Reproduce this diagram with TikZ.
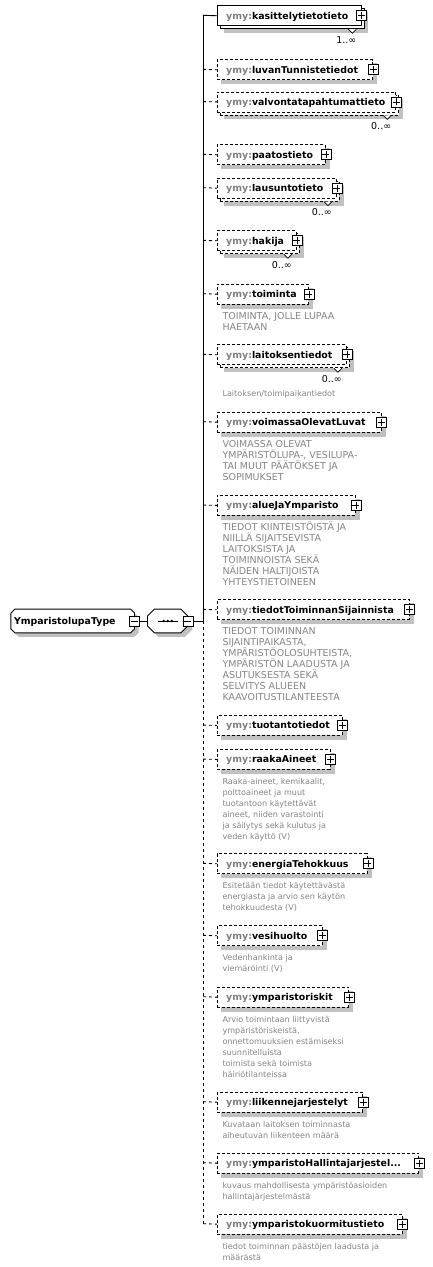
\documentclass[tikz,border=0pt]{standalone}
\usepackage{fontspec}
\setmainfont{DejaVu Sans}
\usetikzlibrary{backgrounds}
\definecolor{pfx}{RGB}{128,128,128}
\definecolor{desccol}{RGB}{132,132,132}
\definecolor{shadowgray}{RGB}{192,192,192}
\tikzset{
  ebox/.style={draw, fill=white, rectangle, minimum height=20pt, inner sep=0pt, line width=0.9pt},
  solidbox/.style={ebox},
  dashbox/.style={ebox, dash pattern=on 3pt off 2pt},
  lbl/.style={inner sep=0pt, font=\fontsize{9.4}{11}\selectfont\bfseries},
  multlbl/.style={inner sep=0pt, font=\fontsize{9.5}{10}\selectfont},
  desclow/.style={inner sep=0pt, align=left, text=desccol, font=\fontsize{8.1}{11}\selectfont},
  desccap/.style={inner sep=0pt, align=left, text=desccol, font=\fontsize{9.5}{11}\selectfont},
  plusbox/.style={draw, fill=white, rectangle, minimum size=10pt, inner sep=0pt, line width=0.8pt,
    path picture={\draw[line width=0.8pt] ([xshift=-3.5pt]path picture bounding box.center) -- ([xshift=3.5pt]path picture bounding box.center);
      \draw[line width=0.8pt] ([yshift=-3.5pt]path picture bounding box.center) -- ([yshift=3.5pt]path picture bounding box.center);}},
  minusbox/.style={draw, fill=white, rectangle, minimum size=10pt, inner sep=0pt, line width=0.8pt,
    path picture={\draw[line width=0.8pt] ([xshift=-3.5pt]path picture bounding box.center) -- ([xshift=3.5pt]path picture bounding box.center);}},
  conn/.style={line width=0.9pt},
  dconn/.style={line width=0.9pt, dash pattern=on 3pt off 3pt},
  notchline/.style={line width=0.7pt, fill=white},
}
% single element box
\newcommand\ElmOne[5]{%
  \node[#5, minimum width=#3pt, anchor=north west] (#1) at (217,#2) {};
  \begin{scope}[on background layer]
    \fill[shadowgray] ([shift={(4pt,-4pt)}]#1.south west) rectangle ([shift={(4pt,-4pt)}]#1.north east);
  \end{scope}
  \node[lbl, anchor=base west] (#1t) at ([xshift=9pt, yshift=-3.4pt]#1.west) {\textcolor{pfx}{ymy:}#4};
  \node[plusbox] (#1p) at (#1.east) {};
}
% repeated (stacked) element box
\newcommand\ElmMany[6]{%
  \node[#5, minimum width=#3pt, anchor=north west] (#1b) at (220,{#2+3}) {};
  \begin{scope}[on background layer]
    \fill[shadowgray] ([shift={(4pt,-4pt)}]#1b.south west) rectangle ([shift={(4pt,-4pt)}]#1b.north east);
  \end{scope}
  \node[#5, minimum width=#3pt, anchor=north west] (#1) at (217,#2) {};
  \node[lbl, anchor=base west] (#1t) at ([xshift=9pt, yshift=-3.4pt]#1.west) {\textcolor{pfx}{ymy:}#4};
  \node[plusbox] (#1p) at (#1.east) {};
  \draw[notchline] ([xshift=-16pt]#1b.south east) -- ([xshift=-12pt, yshift=-4pt]#1b.south east) -- ([xshift=-8pt]#1b.south east);
  \node[multlbl] (#1m) at ([xshift=-18pt, yshift=-10.5pt]#1b.south east) {#6};
}
% description text, #2 = first baseline
\newcommand\Dsc[4]{%
  \node[#3, anchor=north west] (#1) at (222.3,{#2-10}) {\rule{0pt}{10pt}#4};
}
% octagon around a node
\newcommand\OctPath[3]{%
  \draw[#3] ([xshift=#2pt]#1.north west) -- ([xshift=-#2pt]#1.north east) -- ([yshift=-#2pt]#1.north east)
    -- ([yshift=#2pt]#1.south east) -- ([xshift=-#2pt]#1.south east) -- ([xshift=#2pt]#1.south west)
    -- ([yshift=#2pt]#1.south west) -- ([yshift=-#2pt]#1.north west) -- cycle;
}
\begin{document}
\begin{tikzpicture}[x=1pt, y=-1pt]
\useasboundingbox (0,0) rectangle (433,1267);

% root node
\node[minimum width=123.3pt, minimum height=23.4pt, inner sep=0pt] (root) at (72.65,621) {};
\OctPath{root}{4}{fill=shadowgray, draw=none, transform canvas={shift={(4pt,-4pt)}}}
\OctPath{root}{4}{fill=white, line width=0.9pt}
\node[lbl, anchor=base west] (roott) at ([xshift=3pt, yshift=-3.4pt]root.west) {YmparistolupaType};
\node[minusbox] (rootm) at (root.east) {};

% sequence compositor
\node[minimum width=40pt, minimum height=23.4pt, inner sep=0pt] (seq) at (167.7,621) {};
\OctPath{seq}{7}{fill=shadowgray, draw=none, transform canvas={shift={(4pt,-4pt)}}}
\OctPath{seq}{7}{fill=white, line width=0.9pt}
\draw[line width=0.9pt] ([xshift=-10pt]seq.center) -- ([xshift=10pt]seq.center);
\foreach \dx in {-4,0,4} \fill ([xshift=\dx pt]seq.center) circle (1.4pt);
\node[minusbox] (seqm) at (seq.east) {};
\draw[conn] (rootm.east) -- (seq.west);

% child elements
\ElmMany{e1}{5.3}{143.5}{kasittelytietotieto}{solidbox}{1..∞}
\ElmOne{e2}{59.3}{155.3}{luvanTunnistetiedot}{dashbox}
\ElmMany{e3}{91.5}{178.3}{valvontatapahtumattieto}{dashbox}{0..∞}
\ElmOne{e4}{144.3}{108}{paatostieto}{dashbox}
\ElmMany{e5}{177.7}{119}{lausuntotieto}{dashbox}{0..∞}
\ElmMany{e6}{230.3}{79}{hakija}{dashbox}{0..∞}
\ElmOne{e7}{283.7}{91}{toiminta}{dashbox}
\ElmMany{e8}{344.3}{129}{laitoksentiedot}{dashbox}{0..∞}
\ElmOne{e9}{411.7}{163.7}{voimassaOlevatLuvat}{dashbox}
\ElmOne{e10}{495}{138}{alueJaYmparisto}{dashbox}
\ElmOne{e11}{599.3}{191.7}{tiedotToiminnanSijainnista}{dashbox}
\ElmOne{e12}{715}{124.7}{tuotantotiedot}{dashbox}
\ElmOne{e13}{749}{112.7}{raakaAineet}{dashbox}
\ElmOne{e14}{853.3}{150}{energiaTehokkuus}{dashbox}
\ElmOne{e15}{925.3}{104.7}{vesihuolto}{dashbox}
\ElmOne{e16}{986.7}{131.3}{ymparistoriskit}{dashbox}
\ElmOne{e17}{1091.7}{145.3}{liikennejarjestelyt}{dashbox}
\ElmOne{e18}{1152.7}{201.3}{ymparistoHallintajarjestel...}{dashbox}
\ElmOne{e19}{1213.7}{184.7}{ymparistokuormitustieto}{dashbox}

% descriptions
\Dsc{d7}{318.9}{desccap}{TOIMINTA, JOLLE LUPAA\\HAETAAN}
\Dsc{d8}{396.7}{desclow}{Laitoksen/toimipaikantiedot}
\Dsc{d9}{446.9}{desccap}{VOIMASSA OLEVAT\\YMPÄRISTÖLUPA-, VESILUPA-\\TAI MUUT PÄÄTÖKSET JA\\SOPIMUKSET}
\Dsc{d10}{530.2}{desccap}{TIEDOT KIINTEISTÖISTÄ JA\\NIILLÄ SIJAITSEVISTA\\LAITOKSISTA JA\\TOIMINNOISTA SEKÄ\\NÄIDEN HALTIJOISTA\\YHTEYSTIETOINEEN}
\Dsc{d11}{634.5}{desccap}{TIEDOT TOIMINNAN\\SIJAINTIPAIKASTA,\\YMPÄRISTÖOLOSUHTEISTA,\\YMPÄRISTÖN LAADUSTA JA\\ASUTUKSESTA SEKÄ\\SELVITYS ALUEEN\\KAAVOITUSTILANTEESTA}
\Dsc{d13}{784.2}{desclow}{Raaka-aineet, kemikaalit,\\polttoaineet ja muut\\tuotantoon käytettävät\\aineet, niiden varastointi\\ja säilytys sekä kulutus ja\\veden käyttö (V)}
\Dsc{d14}{888.5}{desclow}{Esitetään tiedot käytettävästä\\energiasta ja arvio sen käytön\\tehokkuudesta (V)}
\Dsc{d15}{960.5}{desclow}{Vedenhankinta ja\\viemäröinti (V)}
\Dsc{d16}{1021.9}{desclow}{Arvio toimintaan liittyvistä\\ympäristöriskeistä,\\onnettomuuksien estämiseksi\\suunnitelluista\\toimista sekä toimista\\häiriötilanteissa}
\Dsc{d17}{1126.9}{desclow}{Kuvataan laitoksen toiminnasta\\aiheutuvan liikenteen määrä}
\Dsc{d18}{1187.9}{desclow}{kuvaus mahdollisesta ympäristöasioiden\\hallintajärjestelmästä}
\Dsc{d19}{1248.9}{desclow}{tiedot toiminnan päästöjen laadusta ja\\määrästä}

% spine coordinates
\coordinate (jroot) at (203,621);
\foreach \i/\yy in {1/15.3,2/69.3,3/101.5,4/154.3,5/187.7,6/240.3,7/293.7,8/354.3,9/421.7,10/505,
  11/609.3,12/725,13/759,14/863.3,15/935.3,16/996.7,17/1101.7,18/1162.7,19/1223.7}
  \coordinate (j\i) at (203,\yy);

\draw[conn] (seqm.east) -- (jroot);
\draw[conn] (j1) -- (jroot);
\draw[dconn] (jroot) -- (j19);
\draw[conn] (j1) -- (e1.west);
\foreach \i in {2,...,19} \draw[dconn] (j\i) -- (e\i.west);
\end{tikzpicture}
\end{document}
